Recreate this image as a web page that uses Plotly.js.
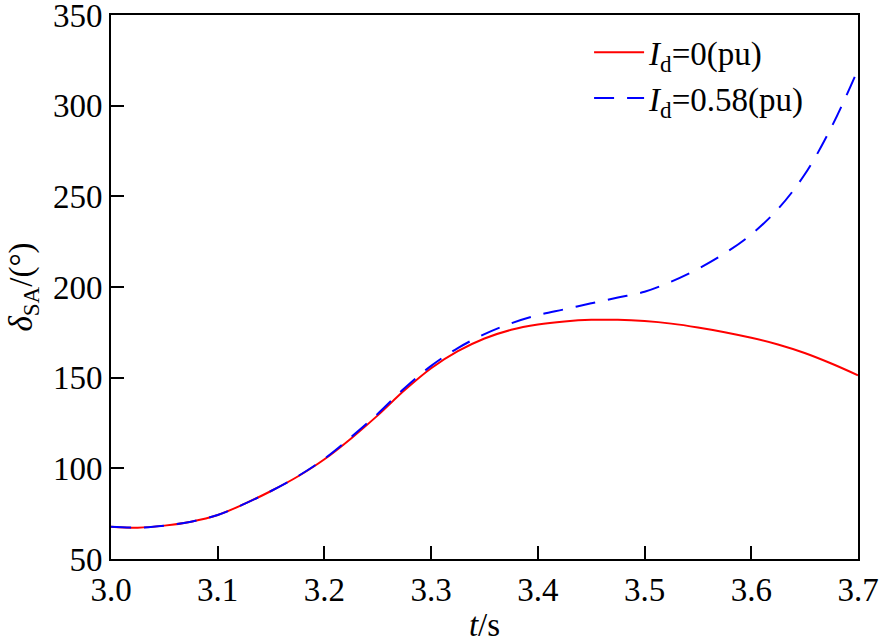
<!DOCTYPE html>
<html>
<head>
<meta charset="utf-8">
<script src="https://cdn.plot.ly/plotly-3.0.1.min.js"></script>
<style>html,body{margin:0;padding:0;background:#fff;}</style>
</head>
<body>
<div id="chart" style="width:879px;height:644px;"></div>
<script>
var tTime = [3.0, 3.025, 3.05, 3.075, 3.1, 3.125, 3.15, 3.175, 3.2, 3.225, 3.25, 3.275, 3.3, 3.325, 3.35, 3.375, 3.4, 3.425, 3.45, 3.475, 3.5, 3.525, 3.55, 3.575, 3.6, 3.625, 3.65, 3.675, 3.7];
var deltaRed = [67.8, 67.3, 68.4, 70.6, 74.3, 80.4, 87.5, 95.5, 105.0, 116.5, 129.2, 143.0, 155.2, 164.6, 171.6, 176.4, 179.3, 181.0, 181.9, 181.9, 181.2, 179.8, 177.7, 175.1, 172.0, 168.3, 163.6, 157.8, 151.3];
var deltaBlue = [67.8, 67.3, 68.4, 70.6, 74.3, 80.4, 87.5, 95.6, 105.3, 117.2, 130.1, 144.2, 156.5, 166.3, 174.0, 180.0, 184.5, 187.7, 191.0, 194.2, 197.4, 203.0, 210.0, 218.5, 229.0, 243.0, 262.0, 288.0, 320.0];
var xTicks = [3.0, 3.1, 3.2, 3.3, 3.4, 3.5, 3.6, 3.7];
var xTickText = ['3.0', '3.1', '3.2', '3.3', '3.4', '3.5', '3.6', '3.7'];
var yTicks = [50, 100, 150, 200, 250, 300, 350];
var names = ['<i>I</i><sub>d</sub>=0(pu)', '<i>I</i><sub>d</sub>=0.58(pu)'];

var font = {family: 'Liberation Serif, Times New Roman, serif', size: 33, color: '#000'};

var traces = [
  {x: tTime, y: deltaRed, name: names[0], mode: 'lines', type: 'scatter',
   line: {color: '#ff0000', width: 2, shape: 'spline', smoothing: 1}},
  {x: tTime, y: deltaBlue, name: names[1], mode: 'lines', type: 'scatter',
   line: {color: '#0000ff', width: 2, dash: '20px,13px', shape: 'spline', smoothing: 1}}
];

var layout = {
  width: 879, height: 644,
  margin: {l: 111, r: 21, t: 15, b: 85},
  paper_bgcolor: '#fff', plot_bgcolor: '#fff',
  font: font,
  showlegend: true,
  legend: {x: 0.64, xanchor: 'left', y: 0.983, yanchor: 'top', bgcolor: 'rgba(0,0,0,0)',
           borderwidth: 0, font: font, itemwidth: 50, tracegroupgap: 0},
  xaxis: {range: [3.0, 3.7], tickvals: xTicks, ticktext: xTickText,
          ticks: 'inside', ticklen: 13, tickwidth: 2, tickcolor: '#000',
          showline: true, linewidth: 2, linecolor: '#000', mirror: true,
          showgrid: false, zeroline: false, tickfont: font, ticklabeloverflow: 'allow',
          title: {text: '<i>t</i>/s', font: font, standoff: 6}},
  yaxis: {range: [50, 350], tickvals: yTicks,
          ticks: 'inside', ticklen: 13, tickwidth: 2, tickcolor: '#000',
          showline: true, linewidth: 2, linecolor: '#000', mirror: true,
          showgrid: false, zeroline: false, tickfont: font, ticklabeloverflow: 'allow',
          title: {text: '<i>δ</i><sub>SA</sub>/(°)', font: font, standoff: 10}}
};

Plotly.newPlot('chart', traces, layout, {displayModeBar: false, staticPlot: true});
</script>
</body>
</html>
